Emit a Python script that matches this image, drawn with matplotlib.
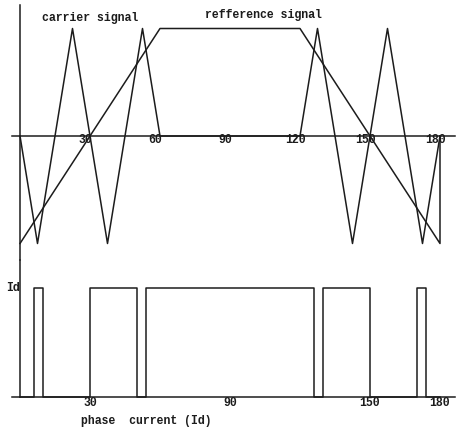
import matplotlib
matplotlib.use("Agg")
import matplotlib.pyplot as plt

# carrier triangle wave (degrees, normalised amplitude)
carrier_x = [0, 7.5, 22.5, 37.5, 52.5, 60, 120, 127.5, 142.5, 157.5, 172.5, 180]
carrier_y = [0, -1, 1, -1, 1, 0, 0, 1, -1, 1, -1, 0]

# trapezoidal reference signal
ref_x = [0, 60, 120, 180, 180]
ref_y = [-1, 1, 1, -1, 0]

# resulting switching pulses (phase current Id)
pulse_x = [0, 6, 10, 30, 50, 54, 126, 130, 150, 170, 174, 180]
pulse_y = [0, 1, 0, 1, 0, 1, 0, 1, 0, 1, 0, 0]

top_ticks = [30, 60, 90, 120, 150, 180]
bottom_ticks = [30, 90, 150, 180]

INK = "#1c1c1c"
LW = 1.1
FONT = dict(family="Liberation Mono", fontweight="bold", fontsize=8.3, color=INK)

fig = plt.figure(figsize=(4.6, 4.3), dpi=100)
xlim = (-20 / 2.3333, 440 / 2.3333)

# top panel: carrier vs reference
ax1 = fig.add_axes([0, 170 / 430, 1, 260 / 430])
ax1.set_xlim(*xlim)
ax1.set_ylim(-124 / 107.5, 136 / 107.5)
ax1.axis("off")
ax1.plot(carrier_x, carrier_y, color=INK, lw=LW)
ax1.plot(ref_x, ref_y, color=INK, lw=LW)
ax1.plot([-3.4, 186.4], [0, 0], color=INK, lw=LW)
ax1.plot([0, 0], [-124 / 107.5, 1.22], color=INK, lw=LW, clip_on=False)
for t in top_ticks:
    ax1.text(t - 2, -0.035, str(t), ha="center", va="center", **FONT)
ax1.text(9.5, 1.095, "carrier signal", ha="left", va="center", **FONT)
ax1.text(79.5, 1.125, "refference signal", ha="left", va="center", **FONT)

# bottom panel: pulse train
ax2 = fig.add_axes([0, 0, 1, 170 / 430])
ax2.set_xlim(*xlim)
ax2.set_ylim(-33 / 109, 137 / 109)
ax2.axis("off")
ax2.plot(pulse_x, pulse_y, color=INK, lw=LW, drawstyle="steps-post")
ax2.plot([-3.4, 186.4], [0, 0], color=INK, lw=LW)
ax2.plot([0, 0], [0, 137 / 109], color=INK, lw=LW, clip_on=False)
for t in bottom_ticks:
    ax2.text(t, -0.055, str(t), ha="center", va="center", **FONT)
ax2.text(-3.2, 1.0, "Id", ha="center", va="center", **FONT)
ax2.text(26, -0.22, "phase  current (Id)", ha="left", va="center", **FONT)

fig.savefig("out.png", dpi=100, facecolor="white")
